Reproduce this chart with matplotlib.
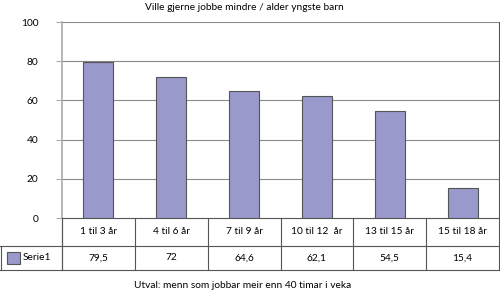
import matplotlib
matplotlib.use('Agg')
import matplotlib.pyplot as plt
from matplotlib.patches import Rectangle
from matplotlib.lines import Line2D

categories = ['1 til 3 år', '4 til 6 år', '7 til 9 år', '10 til 12  år', '13 til 15 år', '15 til 18 år']
values = [79.5, 72, 64.6, 62.1, 54.5, 15.4]
value_labels = ['79,5', '72', '64,6', '62,1', '54,5', '15,4']
series_name = 'Serie1'
title = 'Ville gjerne jobbe mindre / alder yngste barn'
footer = 'Utval: menn som jobbar meir enn 40 timar i veka'

W, H = 500, 292
bar_color = '#9999cc'
edge = '#555555'
grid = '#8a8a8a'
plt.rcParams['font.family'] = ['Lato', 'DejaVu Sans']
fs = 7.3

fig = plt.figure(figsize=(W / 100, H / 100), dpi=100)
fig.patch.set_facecolor('white')

def fx(px):
    return px / W

def fy(py):
    return 1 - py / H

ax = fig.add_axes([fx(62), fy(218), fx(499) - fx(62), fy(22) - fy(218)])
n = len(categories)
x = list(range(n))
ax.bar(x, values, width=0.41, color=bar_color, edgecolor=edge, linewidth=0.8, zorder=3)
ax.set_xlim(-0.5, n - 0.5)
ax.set_ylim(0, 100)
ax.set_yticks([0, 20, 40, 60, 80, 100])
ax.set_yticklabels(['0', '20', '40', '60', '80', '100'], fontsize=fs)
ax.tick_params(axis='y', length=4, color='#aaaaaa', pad=13)
ax.set_xticks([])
for v in [20, 40, 60, 80, 100]:
    ax.axhline(v, color=grid, linewidth=0.8, zorder=1)
ax.spines['left'].set_color('#aaaaaa')
ax.spines['left'].set_linewidth(1.2)
ax.spines['right'].set_color(edge)
ax.spines['right'].set_linewidth(0.8)
ax.spines['top'].set_visible(False)
ax.spines['bottom'].set_color(edge)
ax.spines['bottom'].set_linewidth(0.8)

# data table below the plot
def line(x0, y0, x1, y1):
    fig.add_artist(Line2D([fx(x0), fx(x1)], [fy(y0), fy(y1)], color=edge, linewidth=0.8))

line(0, 246, 499, 246)
line(0, 270, 499, 270)
line(0.5, 246, 0.5, 270)
line(62, 218, 62, 270)
cw = (499 - 62) / n
for i in range(n + 1):
    xb = 62 + i * cw
    line(xb, 218, xb, 270)
for i in range(n):
    xc = 62 + (i + 0.5) * cw
    fig.text(fx(xc), fy(232), categories[i], ha='center', va='center', fontsize=fs)
    fig.text(fx(xc), fy(258), value_labels[i], ha='center', va='center', fontsize=fs)

fig.add_artist(Rectangle((fx(7), fy(264)), fx(13), fy(252) - fy(264), facecolor=bar_color,
                         edgecolor=edge, linewidth=0.8, transform=fig.transFigure))
fig.text(fx(23), fy(258), series_name, ha='left', va='center', fontsize=fs)

fig.text(fx(244), fy(8), title, ha='center', va='center', fontsize=fs)
fig.text(fx(243), fy(285), footer, ha='center', va='center', fontsize=fs)

fig.savefig('out.png', dpi=100)
plt.close(fig)
